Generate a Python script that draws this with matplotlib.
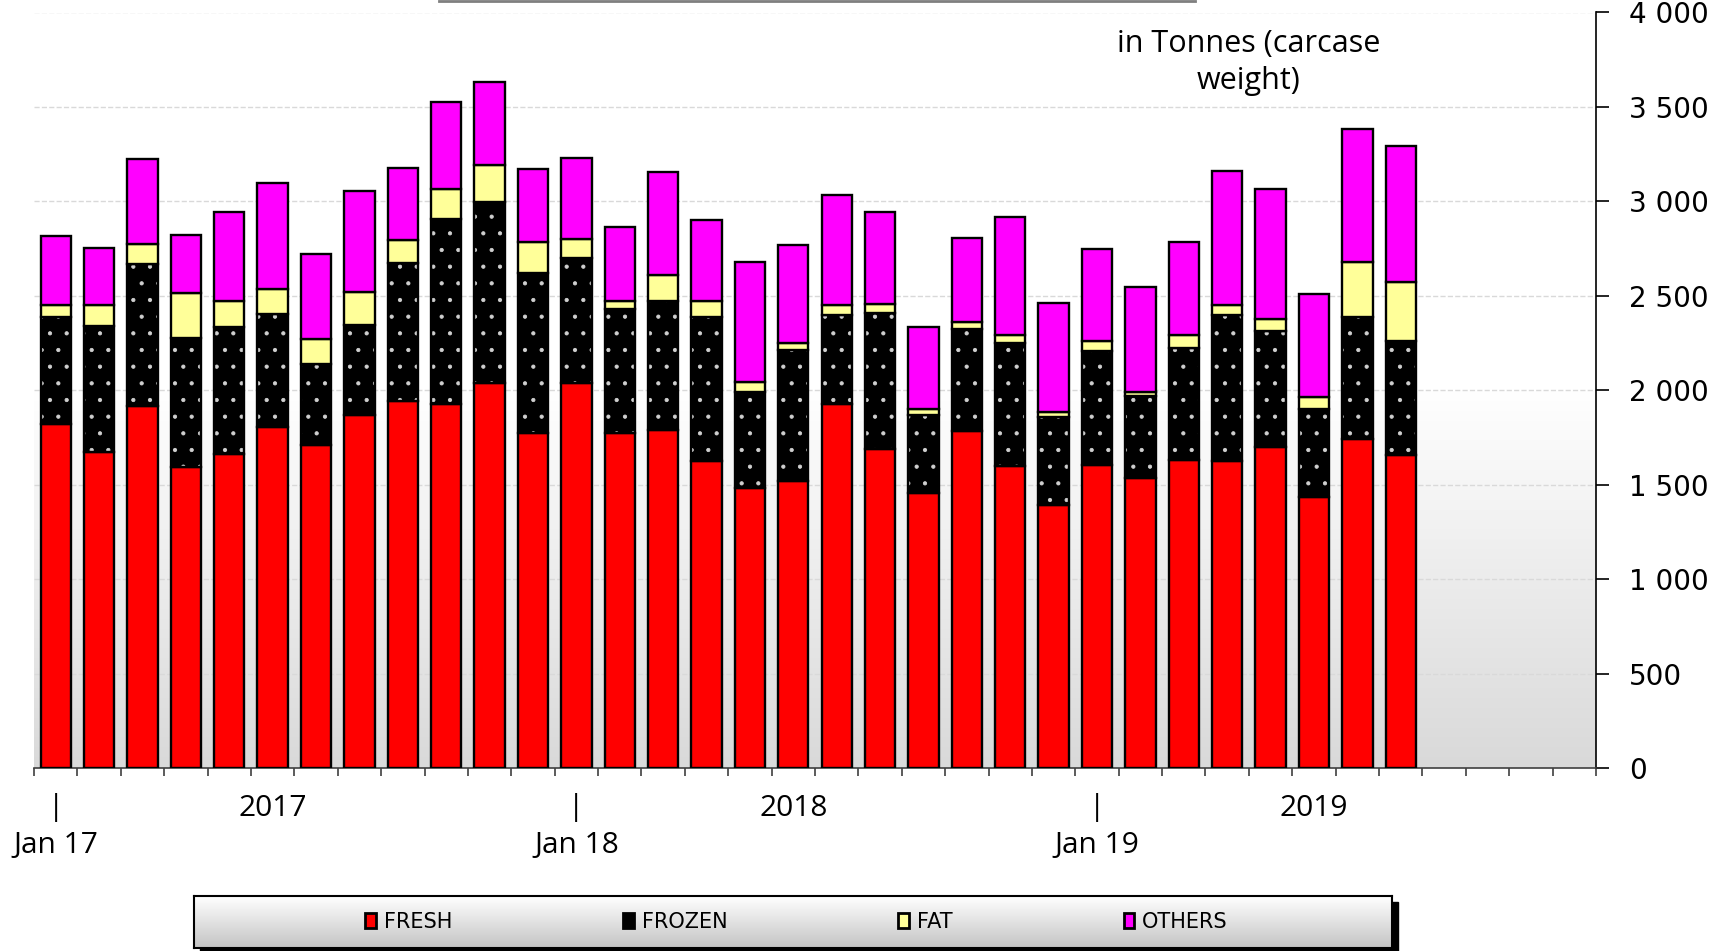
import numpy as np
import matplotlib.pyplot as plt
from matplotlib.patches import Patch, Rectangle
from matplotlib.lines import Line2D
from matplotlib.colors import LinearSegmentedColormap
from matplotlib.ticker import FuncFormatter, MultipleLocator

# monthly imports, Jan 2017 - Aug 2019 (tonnes carcase weight)
fresh = [1823, 1673, 1918, 1592, 1664, 1805, 1712, 1871, 1943, 1927, 2040, 1775,
         2040, 1775, 1791, 1624, 1480, 1521, 1927, 1687, 1454, 1783, 1599, 1391,
         1606, 1535, 1631, 1624, 1701, 1433, 1742, 1656]
frozen = [566, 667, 750, 685, 669, 599, 427, 476, 732, 978, 957, 844,
          660, 654, 683, 765, 513, 692, 470, 724, 417, 543, 649, 466,
          600, 435, 593, 776, 611, 469, 644, 603]
fat = [64, 113, 106, 236, 141, 134, 134, 173, 120, 159, 197, 166,
       99, 45, 138, 82, 49, 39, 53, 46, 31, 35, 43, 28,
       56, 21, 67, 53, 67, 64, 293, 314]
others = [364, 298, 448, 311, 470, 558, 447, 535, 380, 462, 438, 388,
          431, 389, 543, 433, 637, 517, 582, 487, 434, 447, 628, 579,
          484, 554, 492, 706, 685, 545, 704, 722]

series_names = ['FRESH', 'FROZEN', 'FAT', 'OTHERS']
series_colors = ['#ff0000', '#000000', '#ffff99', '#ff00ff']
n_months = 36
years = ['2017', '2018', '2019']
jan_labels = ['Jan 17', 'Jan 18', 'Jan 19']

plt.rcParams['font.family'] = 'DejaVu Sans'
plt.rcParams['hatch.linewidth'] = 0.6

fig = plt.figure(figsize=(17.29, 9.51), dpi=100)
ax = fig.add_axes([34 / 1729, 183 / 951, 1562 / 1729, 755.5 / 951])

# grey gradient in the lower half of the plot area
bg = LinearSegmentedColormap.from_list('bg', ['#d9d9d9', '#ffffff'])
ax.imshow(np.linspace(0, 1, 256).reshape(-1, 1), cmap=bg, origin='lower',
          extent=(-0.5, n_months - 0.5, 0, 2000), aspect='auto', zorder=0)

x = np.arange(len(fresh))
w = 0.7
lw = 1.7
b2 = np.array(fresh) + np.array(frozen)
b3 = b2 + np.array(fat)

ax.bar(x, fresh, w, color=series_colors[0], edgecolor='black', linewidth=lw, zorder=3)
ax.bar(x, frozen, w, bottom=fresh, color='black', edgecolor='#d0d0d0',
       hatch='.', linewidth=0, zorder=3)
ax.bar(x, frozen, w, bottom=fresh, fill=False, edgecolor='black', linewidth=lw, zorder=3)
ax.bar(x, fat, w, bottom=b2, color=series_colors[2], edgecolor='black', linewidth=lw, zorder=3)
ax.bar(x, others, w, bottom=b3, color=series_colors[3], edgecolor='black', linewidth=lw, zorder=3)

ax.set_xlim(-0.5, n_months - 0.5)
ax.set_ylim(0, 4000)

ax.yaxis.set_major_locator(MultipleLocator(500))
ax.yaxis.set_major_formatter(FuncFormatter(lambda v, p: f'{v:,.0f}'.replace(',', ' ')))
ax.yaxis.tick_right()
ax.tick_params(axis='y', length=9, width=1.2, pad=15, labelsize=20)
ax.set_axisbelow(True)
ax.yaxis.grid(True, color='#d9d9d9', linestyle='--', linewidth=1)

ax.set_xticks(np.arange(-0.5, n_months, 1))
ax.set_xticklabels([])
ax.tick_params(axis='x', length=6, width=1.2, color='#404040')

for s in ['left', 'top']:
    ax.spines[s].set_visible(False)
ax.spines['right'].set_linewidth(1.2)
ax.spines['bottom'].set_linewidth(1.2)
ax.spines['bottom'].set_color('#404040')

tr = ax.get_xaxis_transform()
for i, (yr, jl) in enumerate(zip(years, jan_labels)):
    ax.text(12 * i + 5, -0.053, yr, transform=tr, ha='center', va='center',
            fontsize=21.5, family='Open Sans')
    ax.text(12 * i, -0.052, '|', transform=tr, ha='center', va='center',
            fontsize=21.5, family='Open Sans')
    ax.text(12 * i, -0.102, jl, transform=tr, ha='center', va='center',
            fontsize=21.5, family='Open Sans')

ax.text(27.5, 3735, 'in Tonnes (carcase\nweight)', ha='center', va='center',
        fontsize=22, family='Open Sans', linespacing=1.28)

# cut-off title box edge at the very top
fig.add_artist(Line2D([439 / 1729, 1195 / 1729], [1 - 1 / 951] * 2,
                      color='#7f7f7f', linewidth=2))

# legend box with gradient and shadow
fig.add_artist(Rectangle((200 / 1729, -3 / 951), 1198 / 1729, 52 / 951,
                         transform=fig.transFigure, color='black', zorder=1))
lax = fig.add_axes([194 / 1729, 3 / 951, 1198 / 1729, 52 / 951], zorder=2)
lg = LinearSegmentedColormap.from_list('lg', ['#c4c4c4', '#ffffff'])
lax.imshow(np.linspace(0, 1, 64).reshape(-1, 1), cmap=lg, origin='lower',
           extent=(0, 1, 0, 1), aspect='auto')
lax.set_xticks([])
lax.set_yticks([])
for s in lax.spines.values():
    s.set_linewidth(1.5)

handles = [Patch(facecolor=c, edgecolor='black', linewidth=2) for c in series_colors]
lax.legend(handles, series_names, ncol=4, loc='center', frameon=False, fontsize=15,
           handlelength=0.5, handleheight=0.75, handletextpad=0.4, columnspacing=8.2,
           bbox_to_anchor=(0.503, 0.5))

fig.savefig('out.png', dpi=100)
